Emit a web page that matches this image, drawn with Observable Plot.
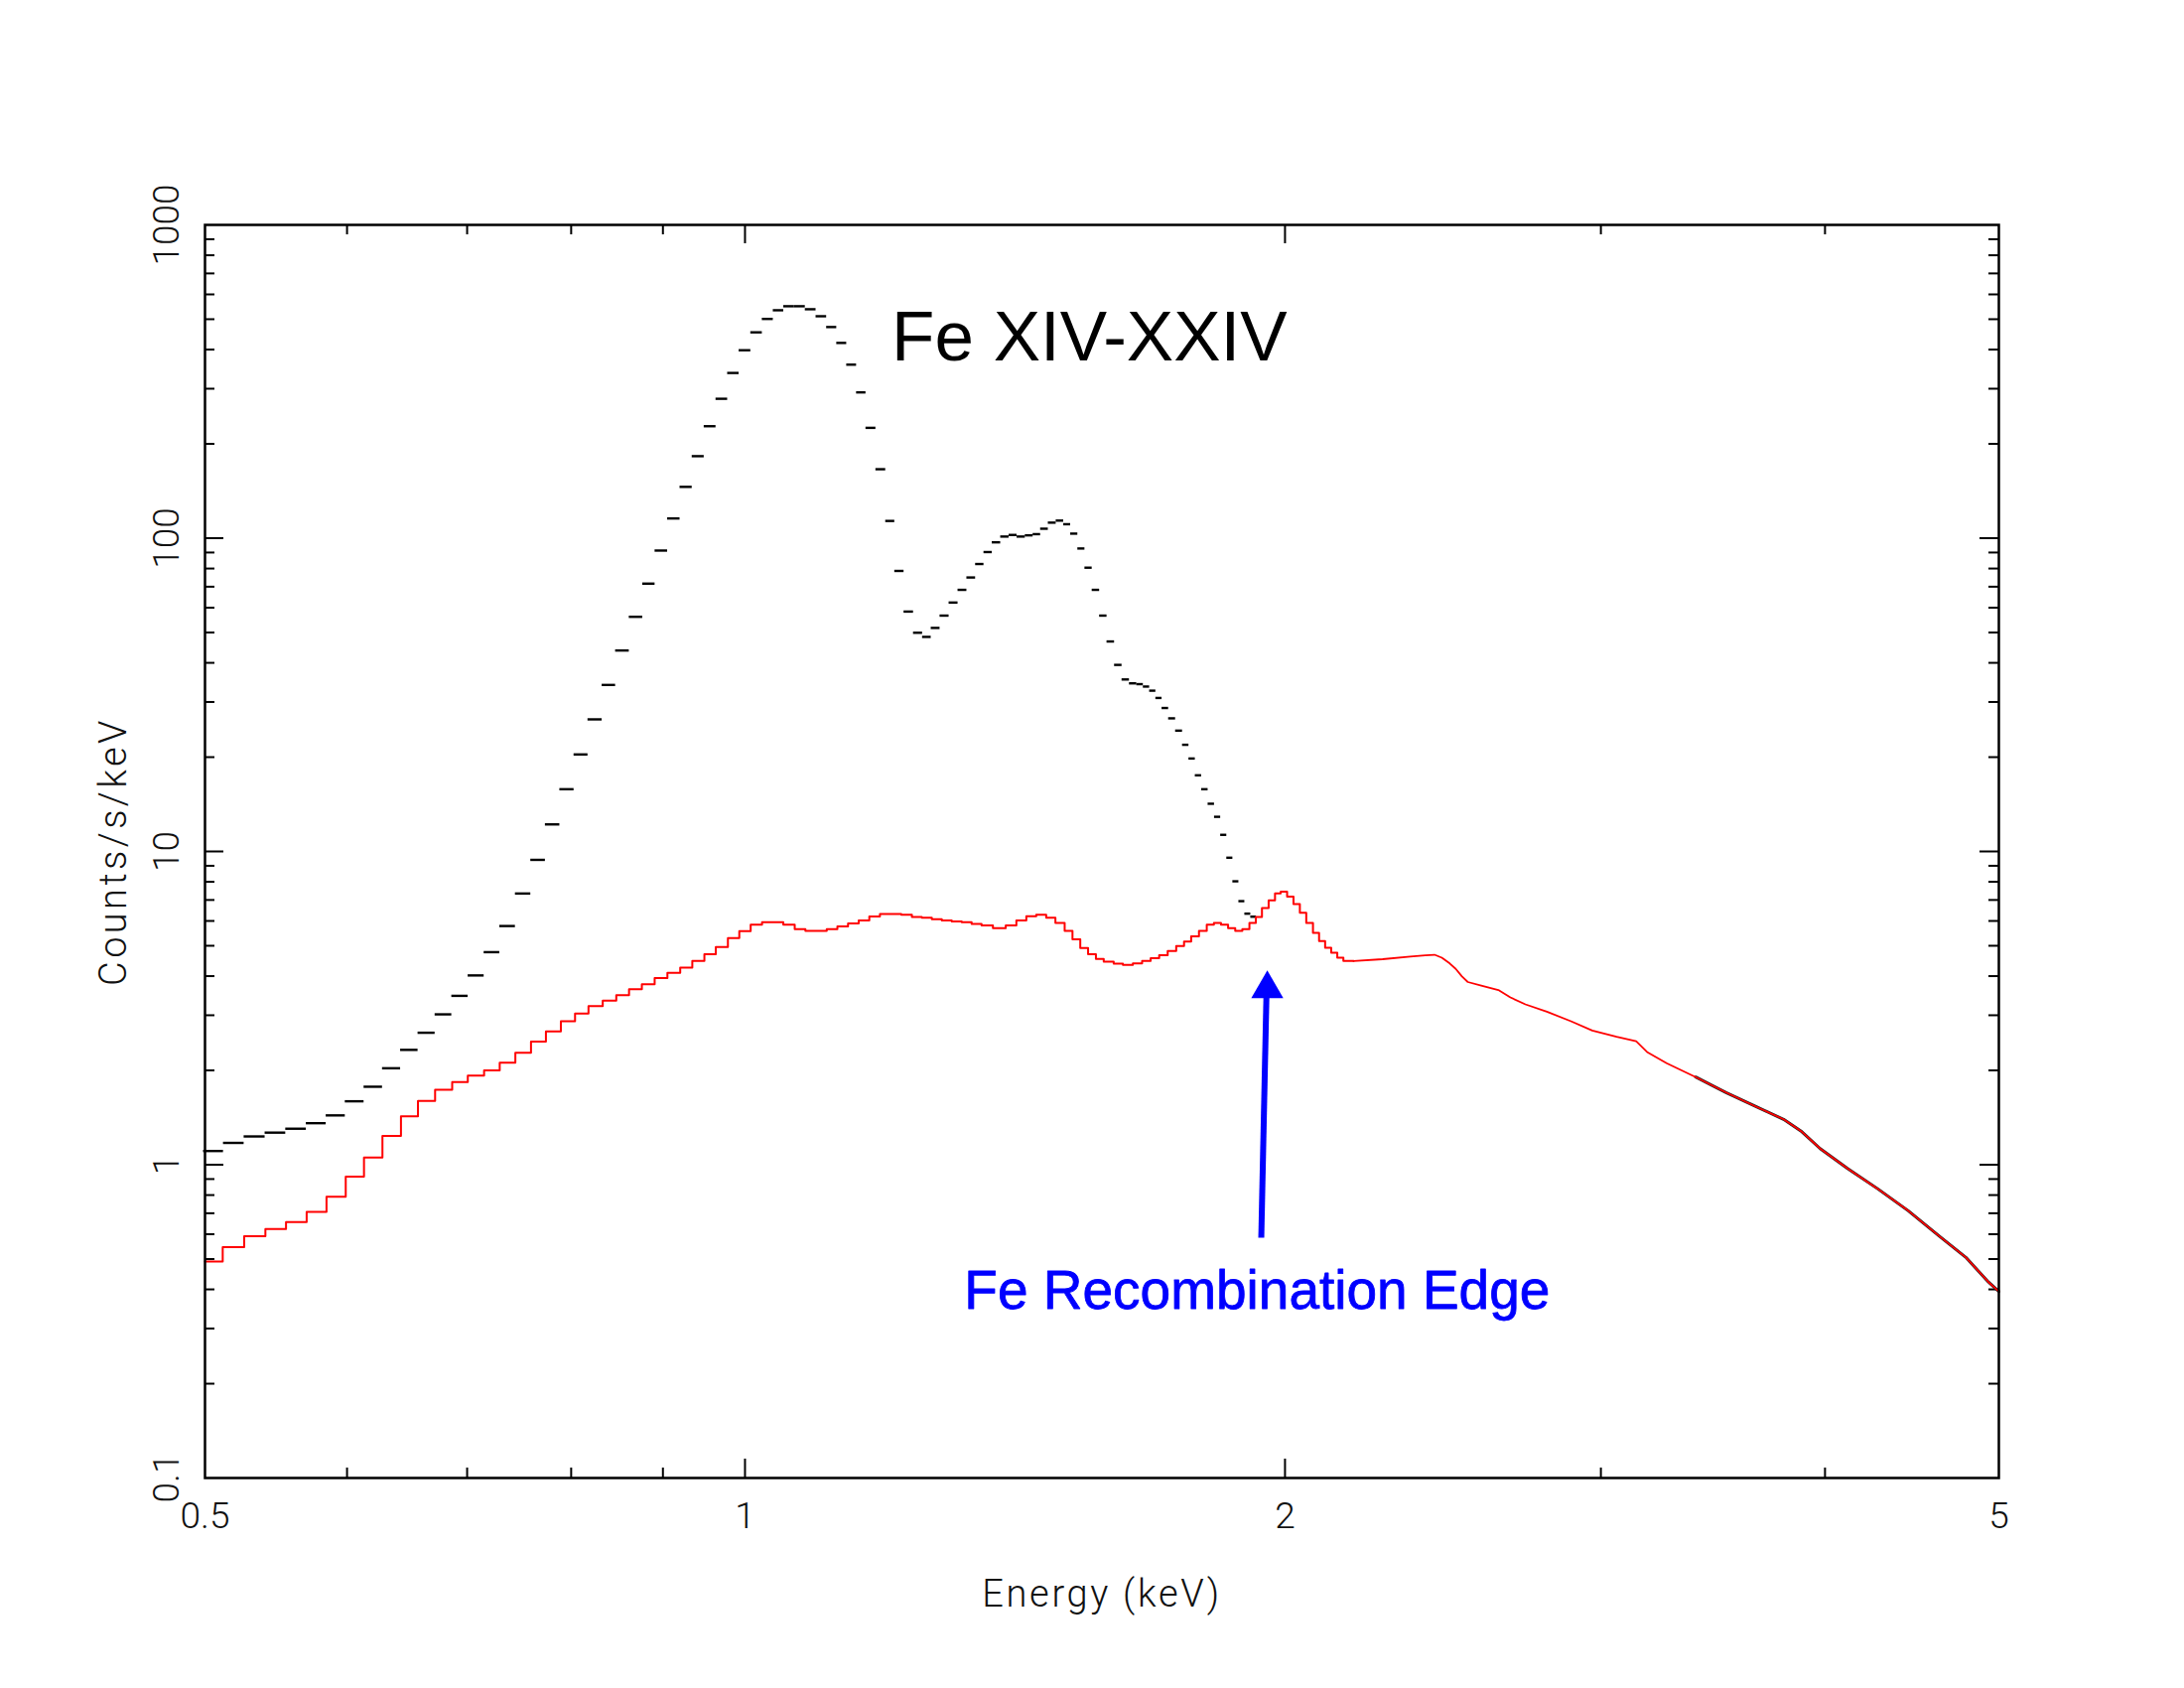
<!DOCTYPE html>
<html>
<head>
<meta charset="utf-8">
<script src="https://cdn.jsdelivr.net/npm/d3@7"></script>
<script src="https://cdn.jsdelivr.net/npm/@observablehq/plot@0.6"></script>
<style>
  html, body { margin: 0; padding: 0; background: #ffffff; }
  #chart svg { display: block; }
</style>
</head>
<body>
<div id="chart"></div>
<script>
// ---- Observed spectrum (black crosses): bin-centre energy (keV) and counts/s/keV
const dataEnergy = [0.5055,0.5186,0.533,0.5473,0.562,0.577,0.5914,0.606,0.6206,0.6354,0.6501,0.6645,0.6792,0.6936,0.7083,0.7227,0.7373,0.7523,0.767,0.781,0.796,0.810,0.825,0.840,0.854,0.870,0.884,0.898,0.913,0.927,0.942,0.956,0.971,0.985,1.000,1.015,1.030,1.044,1.058,1.073,1.088,1.103,1.118,1.132,1.147,1.161,1.175,1.191,1.205,1.219,1.234,1.249,1.263,1.277,1.292,1.307,1.322,1.337,1.352,1.366,1.381,1.396,1.411,1.425,1.441,1.454,1.469,1.483,1.499,1.512,1.526,1.540,1.554,1.569,1.584,1.599,1.615,1.630,1.646,1.661,1.674,1.688,1.701,1.715,1.730,1.746,1.761,1.775,1.790,1.804,1.820,1.834,1.849,1.863,1.878,1.892,1.907,1.921];
const dataCounts = [1.106,1.174,1.231,1.266,1.303,1.357,1.437,1.594,1.774,2.032,2.326,2.638,3.02,3.46,4.02,4.77,5.78,7.34,9.4,12.2,15.8,20.4,26.4,34.0,43.8,56.1,71.6,91.3,115.6,145.8,182.7,227.7,278.6,336.8,398,454,501,534,550,550,538,511,472,420,358,292,225,166,113.5,78.6,58.3,49.9,48.4,51.7,56.6,62.3,68.4,74.9,82.7,90.3,97.0,101.2,102.4,101.2,102.1,103,107.2,112.1,113.8,110.8,103.4,92.7,80.5,68.4,56.6,46.8,39.4,35.4,34.4,34.2,33.6,32.6,30.9,28.7,26.6,24.3,21.9,19.8,17.5,15.8,14.2,12.9,11.3,9.55,8.03,6.94,6.33,6.19];
// observed points above 3.4 keV (lie on the model)
const dataTailEnergy = [3.388,3.523,3.663,3.793,3.883,3.975,4.117,4.281,4.451,4.628,4.793,4.934,5.0];
const dataTailCounts = [1.905,1.70,1.53,1.396,1.274,1.126,0.973,0.837,0.713,0.594,0.506,0.422,0.394];

// ---- Model (red histogram): bin low edges (keV) and counts/s/keV
const modelStepEnergy = [0.5,0.5115,0.5258,0.5403,0.5548,0.5697,0.5844,0.599,0.6132,0.6279,0.643,0.6572,0.6718,0.6867,0.7006,0.7154,0.7299,0.7447,0.7598,0.7745,0.7895,0.804,0.818,0.8331,0.8477,0.8617,0.876,0.8905,0.9052,0.9202,0.9346,0.9492,0.9632,0.9783,0.9927,1.0073,1.0221,1.0361,1.0504,1.0659,1.0806,1.0955,1.1106,1.1259,1.1414,1.1571,1.173,1.1891,1.2055,1.2221,1.2389,1.2548,1.271,1.2874,1.3039,1.3207,1.3376,1.3548,1.3747,1.3975,1.4167,1.4349,1.4533,1.472,1.4895,1.5073,1.5225,1.5378,1.5533,1.569,1.5848,1.6052,1.6243,1.6452,1.6648,1.6832,1.7017,1.7204,1.7393,1.7569,1.773,1.7909,1.8089,1.8255,1.8422,1.8591,1.8762,1.8934,1.9107,1.9265,1.9417,1.9584,1.9745,1.989,2.0054,2.0219,2.0385,2.0553,2.0731,2.0894,2.1057,2.1222,2.1388,2.1556,2.184];
const modelStepCounts = [0.491,0.546,0.591,0.623,0.656,0.707,0.790,0.916,1.055,1.235,1.428,1.599,1.735,1.837,1.925,2.0,2.117,2.275,2.47,2.664,2.873,3.04,3.208,3.34,3.48,3.63,3.77,3.94,4.10,4.26,4.47,4.70,4.95,5.29,5.57,5.84,5.95,5.95,5.84,5.65,5.58,5.58,5.65,5.76,5.89,6.02,6.20,6.31,6.31,6.28,6.18,6.14,6.08,6.02,5.98,5.95,5.87,5.81,5.69,5.81,6.02,6.21,6.28,6.14,5.91,5.58,5.24,4.92,4.70,4.54,4.45,4.38,4.34,4.39,4.47,4.56,4.66,4.81,4.99,5.16,5.36,5.58,5.84,5.91,5.84,5.69,5.58,5.65,5.91,6.18,6.60,6.98,7.34,7.44,7.18,6.79,6.37,5.91,5.50,5.18,4.93,4.75,4.58,4.47,4.47];
// finely binned high-energy part of the model
const modelTailEnergy = [2.184,2.267,2.349,2.395,2.423,2.446,2.471,2.490,2.510,2.529,2.573,2.630,2.671,2.723,2.799,2.887,2.967,3.061,3.139,3.183,3.264,3.388,3.523,3.663,3.793,3.883,3.975,4.117,4.281,4.451,4.628,4.793,4.934,5.0];
const modelTailCounts = [4.47,4.53,4.62,4.66,4.68,4.58,4.39,4.22,3.99,3.83,3.73,3.61,3.42,3.25,3.08,2.87,2.68,2.56,2.48,2.29,2.11,1.905,1.70,1.53,1.396,1.274,1.126,0.973,0.837,0.713,0.594,0.506,0.422,0.394];

// ---- Axes
const xTickLabels = [0.5, 1, 2, 5];
const xMajorTicks = [1, 2];
const xMinorTicks = [0.6, 0.7, 0.8, 0.9, 3, 4];
const yTickLabels = [0.1, 1, 10, 100, 1000];
const yMajorTicks = [1, 10, 100];
const yMinorTicks = [0.2,0.3,0.4,0.5,0.6,0.7,0.8,0.9, 2,3,4,5,6,7,8,9, 20,30,40,50,60,70,80,90, 200,300,400,500,600,700,800,900];
const xLabel = "Energy (keV)";
const yLabel = "Counts/s/keV";

// ---- Annotations (data coordinates)
const lineNote = {label: "Fe XIV-XXIV", e: 1.207, v: 370};
const edgeNote = {label: "Fe Recombination Edge", e: 1.325, v: 0.346};
const arrowNote = {e1: 1.940, v1: 0.585, e2: 1.953, v2: 3.52, e3: 1.955, v3: 4.165};

// ---- Tables
const bars = dataEnergy.map((e, i) => {
  const prev = dataEnergy[i - 1], next = dataEnergy[i + 1];
  const hi = next !== undefined ? Math.sqrt(e * next) : e * e / Math.sqrt(prev * e);
  const lo = prev !== undefined ? Math.sqrt(prev * e) : e * e / Math.sqrt(e * next);
  return {lo, hi, v: dataCounts[i]};
});
const modelStep = modelStepEnergy.map((e, i) => ({e, v: modelStepCounts[i]}));
const modelTail = modelTailEnergy.map((e, i) => ({e, v: modelTailCounts[i]}));
const dataTail = dataTailEnergy.map((e, i) => ({e, v: dataTailCounts[i]}));

const W = 2200, H = 1700;
const mL = 206, mR = 187, mT = 226, mB = 212;
const pw = W - mL - mR, ph = H - mT - mB;
const minorLen = 10, majorLen = 19;
const labelFont = "Roboto, 'Open Sans', 'DejaVu Sans', sans-serif";
const noteFont = "'Liberation Sans', Arial, Helvetica, sans-serif";
const tickStyle = {stroke: "black", strokeWidth: 2};

const chart = Plot.plot({
  width: W, height: H,
  marginLeft: mL, marginRight: mR, marginTop: mT, marginBottom: mB,
  x: {type: "log", domain: [0.5, 5], axis: null},
  y: {type: "log", domain: [0.1, 1000], axis: null},
  style: {background: "white", overflow: "visible"},
  marks: [
    // ticks (inward, all four sides)
    Plot.tickY(yMinorTicks, {y: d => d, insetRight: pw - minorLen, ...tickStyle}),
    Plot.tickY(yMinorTicks, {y: d => d, insetLeft: pw - minorLen, ...tickStyle}),
    Plot.tickY(yMajorTicks, {y: d => d, insetRight: pw - majorLen, ...tickStyle}),
    Plot.tickY(yMajorTicks, {y: d => d, insetLeft: pw - majorLen, ...tickStyle}),
    Plot.tickX(xMinorTicks, {x: d => d, insetTop: ph - minorLen, ...tickStyle}),
    Plot.tickX(xMinorTicks, {x: d => d, insetBottom: ph - minorLen, ...tickStyle}),
    Plot.tickX(xMajorTicks, {x: d => d, insetTop: ph - majorLen, ...tickStyle}),
    Plot.tickX(xMajorTicks, {x: d => d, insetBottom: ph - majorLen, ...tickStyle}),

    // observed data
    Plot.ruleY(bars, {y: "v", x1: "lo", x2: "hi", stroke: "black", strokeWidth: 2.4}),
    Plot.line(dataTail, {x: "e", y: "v", stroke: "#222", strokeWidth: 3.0}),
    // model
    Plot.line(modelStep, {x: "e", y: "v", curve: "step-after", stroke: "#ff0000", strokeWidth: 2}),
    Plot.line(modelTail, {x: "e", y: "v", stroke: "#ff0000", strokeWidth: 1.8}),

    Plot.frame({stroke: "black", strokeWidth: 2.5}),

    // tick labels
    Plot.text(xTickLabels, {x: d => d, text: d => String(d), frameAnchor: "bottom", dy: 50, lineAnchor: "bottom",
      fontSize: 37, fontFamily: labelFont, fontWeight: 300, fill: "#111"}),
    Plot.text(yTickLabels, {y: d => d, text: d => String(d), frameAnchor: "left", dx: -27, rotate: -90,
      textAnchor: "middle", lineAnchor: "bottom", fontSize: 37, fontFamily: labelFont, fontWeight: 300, fill: "#111"}),
    // axis titles
    Plot.text([xLabel], {text: d => d, frameAnchor: "bottom", dy: 129, lineAnchor: "bottom",
      fontSize: 38, fontFamily: labelFont, fontWeight: 300, fill: "#111"}),
    Plot.text([yLabel], {text: d => d, frameAnchor: "left", dx: -80, rotate: -90, textAnchor: "middle", lineAnchor: "bottom",
      fontSize: 38, fontFamily: labelFont, fontWeight: 300, fill: "#111"}),

    // annotations
    Plot.text([lineNote], {x: "e", y: "v", text: "label", textAnchor: "start", lineAnchor: "bottom",
      fontSize: 71, fontFamily: noteFont, fill: "black"}),
    Plot.text([edgeNote], {x: "e", y: "v", text: "label", textAnchor: "start", lineAnchor: "bottom",
      fontSize: 55, fontFamily: noteFont, fill: "#0000ff", stroke: "#0000ff", strokeWidth: 0.8}),
    Plot.link([arrowNote], {x1: "e1", y1: "v1", x2: "e2", y2: "v2", stroke: "#0000ff", strokeWidth: 6}),
    Plot.dot([arrowNote], {x: "e3", y: "v3", symbol: "triangle", r: 12, fill: "#0000ff", stroke: "none", dy: 18.5})
  ]
});

// widen the letter spacing of the two axis titles (PGPLOT-like spacing)
d3.select(chart).selectAll("text").each(function() {
  const t = this.textContent;
  if (t === xLabel) this.style.letterSpacing = "2.7px";
  if (t === yLabel) this.style.letterSpacing = "3.4px";
});
document.getElementById("chart").appendChild(chart);
</script>
</body>
</html>
